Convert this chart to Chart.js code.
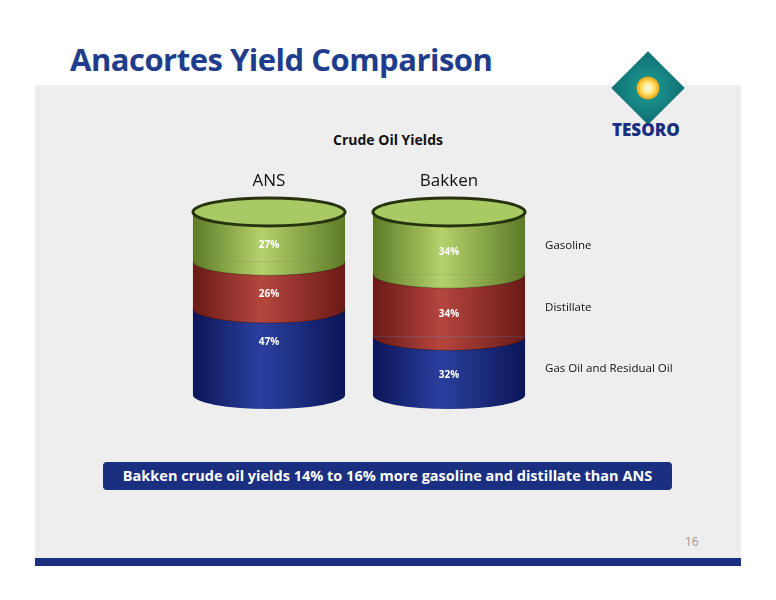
<!DOCTYPE html>
<html><head><meta charset="utf-8">
<script src="https://cdn.jsdelivr.net/npm/chart.js"></script>
<style>
body{margin:0;width:776px;height:600px;position:relative;background:#fff;font-family:"Open Sans",sans-serif;overflow:hidden}
#bg{position:absolute;left:35px;top:85px;width:706px;height:473px;background:#eeeeee}
#title{position:absolute;left:70px;top:38px;font-family:"Open Sans";font-weight:bold;font-size:31px;color:#1f3d8c;letter-spacing:-0.5px}
#bar{position:absolute;left:35px;top:558px;width:706px;height:8px;background:#1a2f80}
#pg{position:absolute;left:685px;top:533px;font-size:12px;color:#999;font-family:"Open Sans"}
#call{position:absolute;left:103px;top:462px;width:569px;height:28px;background:#1a2f80;border-radius:4px;color:#fff;font-family:"Open Sans";font-weight:bold;font-size:14.5px;text-align:center;line-height:28px}
#sub{position:absolute;left:0;width:776px;top:130px;text-align:center;font-family:"Open Sans";font-weight:bold;font-size:14px;color:#111}
#logo{position:absolute;left:622px;top:62px;width:52px;height:52px;transform:rotate(45deg);background:radial-gradient(circle at 50% 50%,#fff 0,#ffe060 18%,#f2a81d 30%,#1a8f8a 32%,#0f6e74 100%)}
#tes{position:absolute;left:612px;top:118px;font-family:"Open Sans";font-weight:800;font-size:17px;color:#1a2f80}
canvas{position:absolute;left:0;top:0}
</style></head><body>
<div id="bg"></div><div id="title">Anacortes Yield Comparison</div>
<div id="logo"></div><div id="tes">TESORO</div>
<div id="sub">Crude Oil Yields</div>
<div id="call">Bakken crude oil yields 14% to 16% more gasoline and distillate than ANS</div>
<div id="pg">16</div><div id="bar"></div>
<canvas id="c" width="776" height="600"></canvas>
<script>
const categories=["ANS","Bakken"];
const seriesNames=["Gas Oil and Residual Oil","Distillate","Gasoline"];
const gasOil=[47,32];
const distillate=[26,34];
const gasoline=[27,34];
const cols=[["#0b1658","#2b3f9e"],["#6a1a16","#b5463e"],["#5d7a26","#b4d26c"]];
const RY=14, BW=152;
function mk(c,x,w,cc){const g=c.createLinearGradient(x-w/2,0,x+w/2,0);
 g.addColorStop(0,cc[0]);g.addColorStop(0.45,cc[1]);g.addColorStop(1,cc[0]);return g;}
function grad(ctx,cc){const ch=ctx.chart;if(!ch.chartArea||!ch.scales.x)return cc[1];
 const x=ch.scales.x.getPixelForValue(ctx.dataIndex);return mk(ch.ctx,x,BW,cc);}
const cyl={id:'cyl',afterDatasetsDraw(ch){const c=ch.ctx;const vals=[gasOil,distillate,gasoline];
 for(let i=0;i<categories.length;i++){
  for(let d=0;d<3;d++){const el=ch.getDatasetMeta(d).data[i];const w=el.width;
   c.save();c.fillStyle=mk(c,el.x,w,cols[d]);c.beginPath();c.ellipse(el.x,el.base,w/2,RY,0,0,Math.PI);c.fill();
   if(d>0){c.strokeStyle='rgba(0,0,0,0.3)';c.lineWidth=1;c.beginPath();c.ellipse(el.x,el.base,w/2,RY,0,0,Math.PI);c.stroke();}
   c.restore();}
  const t=ch.getDatasetMeta(2).data[i];c.save();c.fillStyle='#a9c964';c.strokeStyle='#26330e';c.lineWidth=3;
  c.beginPath();c.ellipse(t.x,t.y,t.width/2,RY,0,0,Math.PI*2);c.fill();c.stroke();c.restore();
  c.save();c.font='17px "Open Sans"';c.fillStyle='#111';c.textAlign='center';c.fillText(categories[i],t.x,t.y-RY-12);c.restore();
  for(let d=0;d<3;d++){const el=ch.getDatasetMeta(d).data[i];c.save();c.font='bold 10px "Open Sans"';c.fillStyle='#fff';c.textAlign='center';
   const yy=i==0?el.y+RY+22:(el.y+el.base)/2+12;c.fillText(vals[d][i]+'%',el.x,yy);c.restore();
   if(i==1){c.save();c.font='11.5px "Open Sans"';c.fillStyle='#111';c.fillText(seriesNames[d],el.x+el.width/2+20,(el.y+el.base)/2+6);c.restore();}}
 }}};
new Chart(document.getElementById('c'),{type:'bar',
 data:{labels:categories,datasets:[
  {label:seriesNames[0],data:gasOil,backgroundColor:ctx=>grad(ctx,cols[0])},
  {label:seriesNames[1],data:distillate,backgroundColor:ctx=>grad(ctx,cols[1])},
  {label:seriesNames[2],data:gasoline,backgroundColor:ctx=>grad(ctx,cols[2])}]},
 options:{responsive:false,animation:false,events:[],layout:{padding:{left:179,right:237,top:212,bottom:205}},
  datasets:{bar:{categoryPercentage:1,barPercentage:0.845}},
  scales:{x:{stacked:true,display:false},y:{stacked:true,display:false,min:0,max:100}},
  plugins:{legend:{display:false},tooltip:{enabled:false}}},
 plugins:[cyl]});
</script></body></html>
